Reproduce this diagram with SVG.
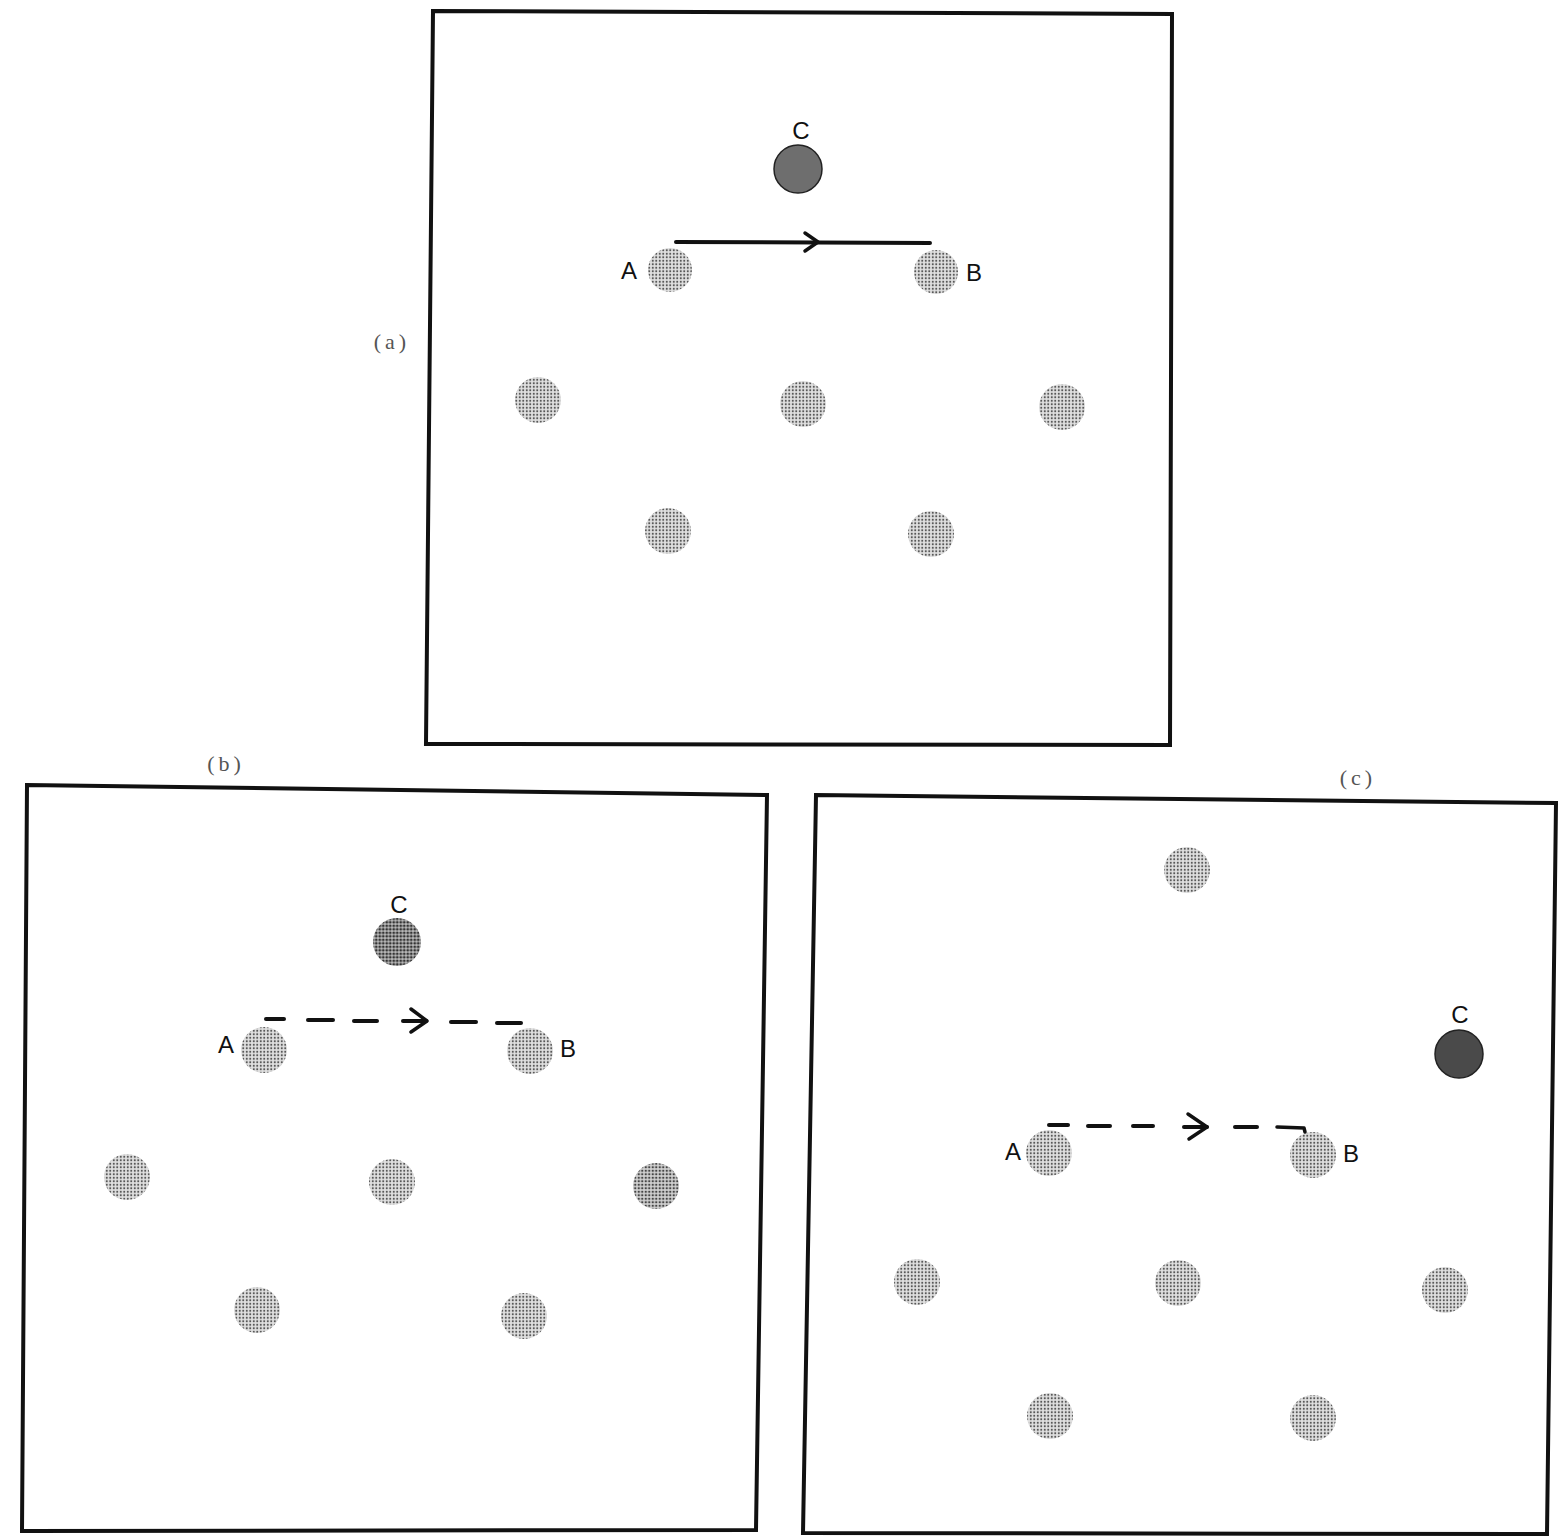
<svg xmlns="http://www.w3.org/2000/svg" width="1568" height="1537" viewBox="0 0 1568 1537">
<style>
.frame{fill:none;stroke:#111;stroke-width:4;stroke-linejoin:miter}
.lbl{font-family:"Liberation Sans",Arial,sans-serif;font-size:24px;fill:#111}
.cap{font-family:"Liberation Serif","Times New Roman",serif;font-size:22px;fill:#555;letter-spacing:4px}
.dot{fill:url(#halftone)}
.dotm{fill:url(#halftoneMid)}
.dotc{fill:url(#halftoneDark)}
.dark{fill:#6e6e6e;stroke:#222;stroke-width:1.5}
.solid{fill:none;stroke:#111;stroke-width:4;stroke-linecap:round}
.seg{fill:none;stroke:#111;stroke-width:4;stroke-linecap:round}
.chev{fill:none;stroke:#111;stroke-width:3.5;stroke-linecap:round;stroke-linejoin:round}
</style>
<defs>
<pattern id="halftone" width="3.5" height="3.5" patternUnits="userSpaceOnUse">
<rect width="3.5" height="3.5" fill="#e0e0e0"/>
<circle cx="1.75" cy="1.75" r="1.05" fill="#555"/>
</pattern>
<pattern id="halftoneMid" width="3.5" height="3.5" patternUnits="userSpaceOnUse">
<rect width="3.5" height="3.5" fill="#d0d0d0"/>
<circle cx="1.75" cy="1.75" r="1.2" fill="#444"/>
</pattern>
<pattern id="halftoneDark" width="3.5" height="3.5" patternUnits="userSpaceOnUse">
<rect width="3.5" height="3.5" fill="#bbb"/>
<circle cx="1.75" cy="1.75" r="1.4" fill="#333"/>
</pattern>
</defs>
<rect width="1568" height="1537" fill="#fff"/>

<g id="panel-a">
<polygon class="frame" points="433,11 1172,14 1170,745 426,744"/>
<text class="cap" x="392" y="349" text-anchor="middle">(a)</text>
<g id="a-C"><circle class="dark" cx="798" cy="169" r="24"/><text class="lbl" x="801" y="139" text-anchor="middle">C</text></g>
<g id="a-A"><circle class="dot" cx="670" cy="270" r="22"/><text class="lbl" x="629" y="279" text-anchor="middle">A</text></g>
<g id="a-B"><circle class="dot" cx="936" cy="272" r="22"/><text class="lbl" x="974" y="281" text-anchor="middle">B</text></g>
<g id="a-n1"><circle class="dot" cx="538" cy="400" r="23"/></g>
<g id="a-n2"><circle class="dot" cx="803" cy="404" r="23"/></g>
<g id="a-n3"><circle class="dot" cx="1062" cy="407" r="23"/></g>
<g id="a-n4"><circle class="dot" cx="668" cy="531" r="23"/></g>
<g id="a-n5"><circle class="dot" cx="931" cy="534" r="23"/></g>
</g>

<g id="panel-b">
<polygon class="frame" points="27,785 767,795 756,1530 22,1531"/>
<text class="cap" x="226" y="771" text-anchor="middle">(b)</text>
<g id="b-C"><circle class="dotc" cx="397" cy="942" r="24"/><text class="lbl" x="399" y="913" text-anchor="middle">C</text></g>
<g id="b-A"><circle class="dot" cx="264" cy="1050" r="23"/><text class="lbl" x="226" y="1053" text-anchor="middle">A</text></g>
<g id="b-B"><circle class="dot" cx="530" cy="1051" r="23"/><text class="lbl" x="568" y="1057" text-anchor="middle">B</text></g>
<g id="b-n1"><circle class="dot" cx="127" cy="1177" r="23"/></g>
<g id="b-n2"><circle class="dot" cx="392" cy="1182" r="23"/></g>
<g id="b-n3"><circle class="dotm" cx="656" cy="1186" r="23"/></g>
<g id="b-n4"><circle class="dot" cx="257" cy="1310" r="23"/></g>
<g id="b-n5"><circle class="dot" cx="524" cy="1316" r="23"/></g>
</g>

<g id="panel-c">
<polygon class="frame" points="816,795 1556,803 1547,1534 803,1533"/>
<text class="cap" x="1358" y="785" text-anchor="middle">(c)</text>
<g id="c-top"><circle class="dot" cx="1187" cy="870" r="23"/></g>
<g id="c-C"><circle class="dark" cx="1459" cy="1054" r="24" style="fill:#4a4a4a"/><text class="lbl" x="1460" y="1023" text-anchor="middle">C</text></g>
<g id="c-A"><circle class="dot" cx="1049" cy="1153" r="23"/><text class="lbl" x="1013" y="1160" text-anchor="middle">A</text></g>
<g id="c-B"><circle class="dot" cx="1313" cy="1155" r="23"/><text class="lbl" x="1351" y="1162" text-anchor="middle">B</text></g>
<g id="c-n1"><circle class="dot" cx="917" cy="1282" r="23"/></g>
<g id="c-n2"><circle class="dot" cx="1178" cy="1283" r="23"/></g>
<g id="c-n3"><circle class="dot" cx="1445" cy="1290" r="23"/></g>
<g id="c-n4"><circle class="dot" cx="1050" cy="1416" r="23"/></g>
<g id="c-n5"><circle class="dot" cx="1313" cy="1418" r="23"/></g>
</g>

<g id="connectors">
<line class="solid" x1="676" y1="242" x2="930" y2="243"/>
<polyline class="chev" points="805,233 818,242 805,251"/>

<g id="b-arrow">
<line class="seg" x1="266" y1="1019" x2="284" y2="1019"/>
<line class="seg" x1="308" y1="1020" x2="333" y2="1020"/>
<line class="seg" x1="354" y1="1021" x2="377" y2="1021"/>
<line class="seg" x1="403" y1="1021" x2="426" y2="1021"/>
<polyline class="chev" points="411,1009 427,1021 411,1032"/>
<line class="seg" x1="451" y1="1022" x2="476" y2="1022"/>
<line class="seg" x1="497" y1="1023" x2="521" y2="1023"/>
</g>

<g id="c-arrow">
<line class="seg" x1="1049" y1="1125" x2="1068" y2="1125"/>
<line class="seg" x1="1088" y1="1126" x2="1110" y2="1126"/>
<line class="seg" x1="1133" y1="1126" x2="1153" y2="1126"/>
<line class="seg" x1="1184" y1="1127" x2="1207" y2="1127"/>
<polyline class="chev" points="1188,1114 1207,1127 1189,1139"/>
<line class="seg" x1="1235" y1="1127" x2="1257" y2="1127"/>
<polyline class="chev" points="1277,1127 1304,1128 1305,1132"/>
</g>
</g>
</svg>
